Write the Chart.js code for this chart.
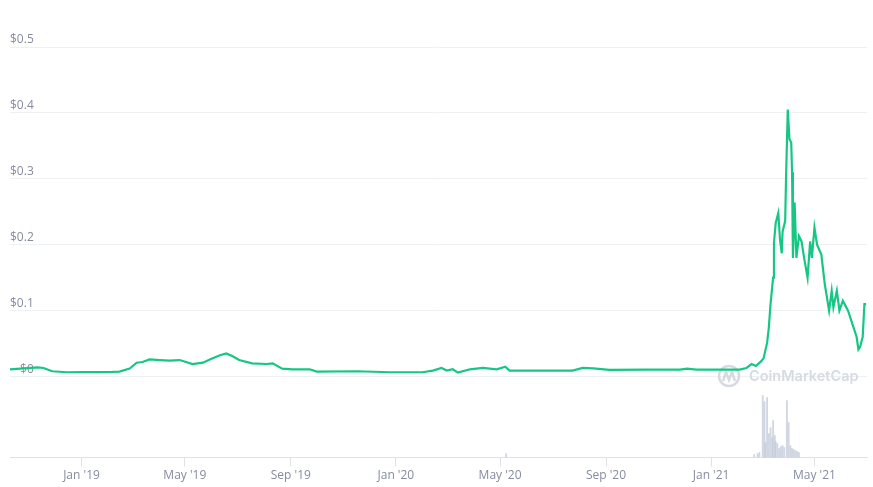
<!DOCTYPE html>
<html>
<head>
<meta charset="utf-8">
<script src="https://cdn.jsdelivr.net/npm/chart.js@4.4.1/dist/chart.umd.min.js"></script>
<style>
	body { margin: 0; background: #fff; }
</style>
</head>
<body>
<canvas id="priceChart" width="873" height="487"></canvas>
<script>
// price series (USD)
var priceDates = [
	"2018-10-10", "2018-10-22", "2018-11-11", "2018-11-18", "2018-11-28", "2018-12-15",
	"2019-01-03", "2019-01-22", "2019-02-06", "2019-02-14", "2019-02-26", "2019-03-06",
	"2019-03-13", "2019-03-21", "2019-04-02", "2019-04-13", "2019-04-25", "2019-05-10",
	"2019-05-22", "2019-05-30", "2019-06-10", "2019-06-18", "2019-06-25", "2019-07-03",
	"2019-07-18", "2019-08-04", "2019-08-11", "2019-08-22", "2019-09-03", "2019-09-23",
	"2019-10-01", "2019-11-17", "2019-12-25", "2020-02-01", "2020-02-13", "2020-02-23",
	"2020-02-29", "2020-03-07", "2020-03-13", "2020-03-27", "2020-04-11", "2020-04-27",
	"2020-05-07", "2020-05-12", "2020-06-16", "2020-07-24", "2020-08-05", "2020-08-17",
	"2020-09-05", "2020-10-18", "2020-11-26", "2020-12-04", "2020-12-15", "2021-02-03",
	"2021-02-11", "2021-02-17", "2021-02-22", "2021-02-28", "2021-03-03", "2021-03-07",
	"2021-03-09", "2021-03-11", "2021-03-14", "2021-03-15", "2021-03-17", "2021-03-20",
	"2021-03-22", "2021-03-24", "2021-03-25", "2021-03-28", "2021-03-29", "2021-03-31",
	"2021-04-02", "2021-04-04", "2021-04-05", "2021-04-06", "2021-04-08", "2021-04-10",
	"2021-04-13", "2021-04-16", "2021-04-19", "2021-04-23", "2021-04-26", "2021-04-28",
	"2021-05-01", "2021-05-04", "2021-05-09", "2021-05-13", "2021-05-18", "2021-05-21",
	"2021-05-23", "2021-05-27", "2021-05-30", "2021-06-03", "2021-06-09", "2021-06-14",
	"2021-06-19", "2021-06-21", "2021-06-23", "2021-06-26", "2021-06-28", "2021-06-30"
];
var prices = [
	0.011, 0.012, 0.014, 0.013, 0.008, 0.0065,
	0.0068, 0.0068, 0.007, 0.0075, 0.012, 0.021,
	0.022, 0.026, 0.025, 0.024, 0.025, 0.019,
	0.021, 0.026, 0.032, 0.035, 0.031, 0.025,
	0.020, 0.019, 0.020, 0.012, 0.011, 0.011,
	0.0075, 0.008, 0.0065, 0.0065, 0.009, 0.013,
	0.009, 0.011, 0.006, 0.011, 0.013, 0.011,
	0.015, 0.009, 0.009, 0.009, 0.013, 0.0125,
	0.010, 0.0105, 0.0105, 0.012, 0.0105, 0.0105,
	0.013, 0.019, 0.016, 0.023, 0.028, 0.051,
	0.074, 0.11, 0.15, 0.203, 0.233, 0.248,
	0.208, 0.187, 0.22, 0.236, 0.30, 0.405,
	0.36, 0.355, 0.31, 0.18, 0.264, 0.18,
	0.213, 0.205, 0.18, 0.15, 0.205, 0.18,
	0.226, 0.20, 0.185, 0.14, 0.10, 0.13,
	0.105, 0.13, 0.10, 0.115, 0.10, 0.08,
	0.06, 0.041, 0.045, 0.06, 0.11, 0.11
];

// volume (USD millions)
var volumeDates = [
	"2020-05-08", "2021-02-20", "2021-02-24", "2021-02-26", "2021-03-02", "2021-03-04",
	"2021-03-05", "2021-03-07", "2021-03-09", "2021-03-11", "2021-03-13", "2021-03-14",
	"2021-03-16", "2021-03-17", "2021-03-19", "2021-03-21", "2021-03-23", "2021-03-25",
	"2021-03-27", "2021-03-30", "2021-04-01", "2021-04-03", "2021-04-05", "2021-04-07",
	"2021-04-09", "2021-04-11", "2021-04-13"
];
var volumes = [
	40, 30, 40, 50, 620, 560,
	150, 600, 240, 300, 200, 370,
	220, 160, 140, 90, 110, 120,
	100, 570, 350, 120, 90, 80,
	70, 60, 50
];

var tickDates = ["2019-01-01", "2019-05-01", "2019-09-01", "2020-01-01", "2020-05-01", "2020-09-01", "2021-01-01", "2021-05-01"];
var tickLabels = ["Jan '19", "May '19", "Sep '19", "Jan '20", "May '20", "Sep '20", "Jan '21", "May '21"];
var priceTicks = [0, 0.1, 0.2, 0.3, 0.4, 0.5];

function dayOf(s) {
	return (Date.parse(s) - Date.parse("2019-01-01")) / 86400000;
}

var priceData = priceDates.map(function (d, i) { return { x: dayOf(d), y: prices[i] }; });
var volumeData = volumeDates.map(function (d, i) { return { x: dayOf(d), y: volumes[i] }; });
var tickDays = tickDates.map(dayOf);

var labelColor = "#858ca0";

var watermark = {
	id: "watermark",
	beforeDatasetsDraw: function (chart) {
		var ctx = chart.ctx;
		ctx.save();
		ctx.strokeStyle = "#d6dae1";
		ctx.fillStyle = "#d6dae1";
		ctx.lineWidth = 2.5;
		ctx.beginPath();
		ctx.arc(729, 376, 10, 0, Math.PI * 2);
		ctx.stroke();
		ctx.beginPath();
		ctx.moveTo(723, 381);
		ctx.lineTo(726, 372);
		ctx.lineTo(729, 380);
		ctx.lineTo(732, 372);
		ctx.lineTo(735, 381);
		ctx.stroke();
		ctx.font = "600 14.5px Inter";
		ctx.textBaseline = "middle";
		ctx.fillText("CoinMarketCap", 749, 377);
		ctx.restore();
	}
};

var ctx = document.getElementById("priceChart").getContext("2d");
var priceChart = new Chart(ctx, {
	type: "line",
	data: {
		datasets: [
			{
				type: "line",
				label: "Price",
				data: priceData,
				yAxisID: "y",
				borderColor: "#16c784",
				borderWidth: 2.2,
				pointRadius: 0,
				tension: 0,
				order: 1,
			},
			{
				type: "bar",
				label: "Volume",
				data: volumeData,
				yAxisID: "yv",
				backgroundColor: "rgba(190, 198, 214, 0.7)",
				barThickness: 1.2,
				order: 2,
			},
		],
	},
	options: {
		responsive: false,
		animation: false,
		layout: {
			padding: { left: 10, right: 6, top: 47, bottom: 2 },
		},
		plugins: {
			legend: { display: false },
			tooltip: { enabled: false },
		},
		scales: {
			x: {
				type: "linear",
				offset: false,
				min: dayOf("2018-10-10"),
				max: dayOf("2021-07-01"),
				afterBuildTicks: function (axis) {
					axis.ticks = tickDays.map(function (v) { return { value: v }; });
				},
				ticks: {
					color: labelColor,
					font: { family: "Open Sans", size: 12 },
					padding: 2,
					maxRotation: 0,
					callback: function (value) {
						var i = tickDays.indexOf(value);
						return i >= 0 ? tickLabels[i] : "";
					},
				},
				grid: {
					offset: false,
					drawOnChartArea: false,
					tickLength: 9,
					color: "#dfe3e9",
				},
				border: { color: "#dfe3e9" },
			},
			y: {
				position: "left",
				min: -0.123,
				max: 0.5,
				afterBuildTicks: function (axis) {
					axis.ticks = priceTicks.map(function (v) { return { value: v }; });
				},
				ticks: {
					mirror: true,
					crossAlign: "far",
					padding: 0,
					labelOffset: -7,
					color: labelColor,
					font: { family: "Open Sans", size: 12 },
					callback: function (value) { return "$" + value; },
				},
				grid: { drawTicks: false, color: "#eef1f4" },
				border: { display: false },
			},
			yv: {
				display: false,
				min: 0,
				max: 4100,
			},
		},
	},
	plugins: [watermark],
});
</script>
</body>
</html>
